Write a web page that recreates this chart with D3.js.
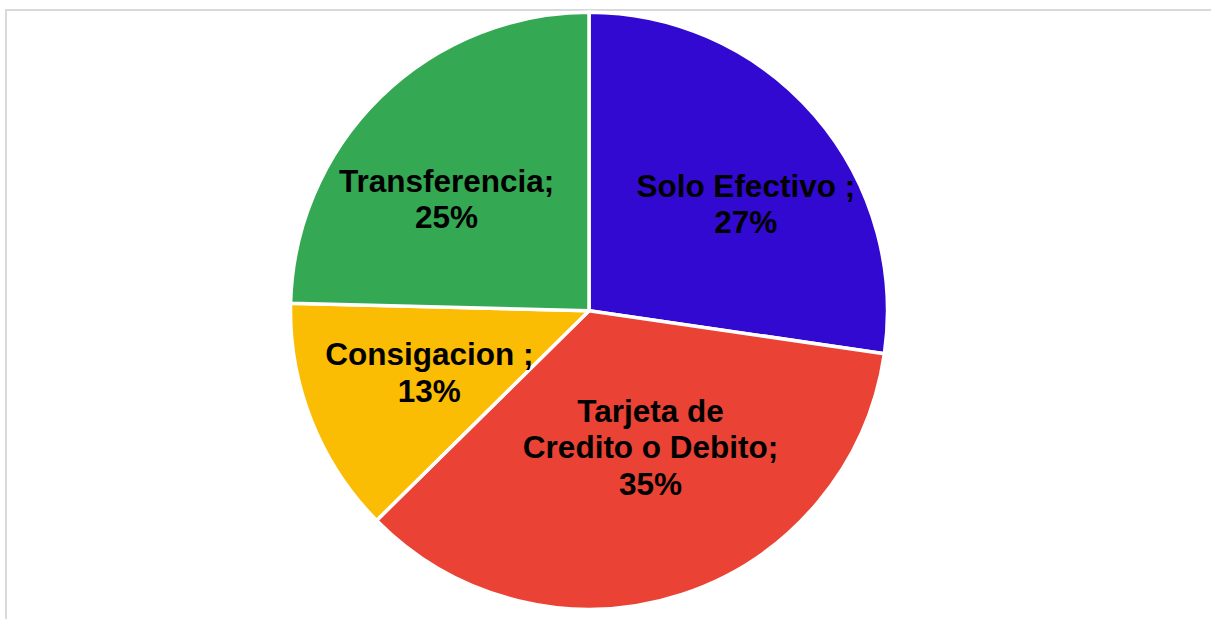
<!DOCTYPE html>
<html>
<head>
<meta charset="utf-8">
<script src="https://cdn.jsdelivr.net/npm/d3@7"></script>
<style>
  html, body { margin: 0; padding: 0; background: #ffffff; }
  svg { display: block; }
</style>
</head>
<body>
<svg id="chart" width="1211" height="619"></svg>
<script>
// ---- Data ----
const categories = ["Solo Efectivo ", "Tarjeta de\nCredito o Debito", "Consigacion ", "Transferencia"];
const values = [27.3, 35.3, 12.8, 24.6];
const colors = ["#3209D0", "#EA4335", "#FBBC04", "#34A853"];

// ---- Layout / style ----
const W = 1211, H = 619;
const cx = 589, cy = 310.7;
const R = 298.5;          // includes half of the white stroke
const strokeW = 3.5;
const fontSize = 31.5;
const lineH = 36.5;
const labelRadius = 0.6 * 297;
// small label nudges (px) from the arc centroid, mimicking best-fit placement
const labelNudge = [[22, 10], [6, -33], [6, -4], [-18, 16]];

const svg = d3.select("#chart");

// chart area border
svg.append("rect")
  .attr("x", 6).attr("y", 10)
  .attr("width", 1207).attr("height", 640)
  .attr("fill", "none")
  .attr("stroke", "#d9d9d9")
  .attr("stroke-width", 2);

const total = d3.sum(values);
const data = categories.map((c, i) => ({ name: c, value: values[i], color: colors[i], i }));

const pie = d3.pie().sort(null).value(d => d.value).startAngle(0).endAngle(2 * Math.PI);
const arcs = pie(data);

const arc = d3.arc().innerRadius(0).outerRadius(R);
const labelArc = d3.arc().innerRadius(labelRadius).outerRadius(labelRadius);

const g = svg.append("g").attr("transform", `translate(${cx},${cy})`);

g.selectAll("path.slice")
  .data(arcs)
  .join("path")
  .attr("class", "slice")
  .attr("d", arc)
  .attr("fill", d => d.data.color)
  .attr("stroke", "#ffffff")
  .attr("stroke-width", strokeW)
  .attr("stroke-linejoin", "round");

g.selectAll("text.lbl")
  .data(arcs)
  .join("text")
  .attr("class", "lbl")
  .attr("text-anchor", "middle")
  .attr("font-family", "'Liberation Sans', Arial, sans-serif")
  .attr("font-weight", "bold")
  .attr("font-size", fontSize)
  .attr("fill", "#000000")
  .each(function(d) {
    const [x0, y0] = labelArc.centroid(d);
    const nudge = labelNudge[d.data.i];
    const x = x0 + nudge[0], y = y0 + nudge[1];
    const lines = (d.data.name + ";").split("\n");
    lines.push(Math.round(d.data.value / total * 100) + "%");
    const n = lines.length;
    const firstBaseline = y - (n - 1) * lineH / 2 + 0.35 * fontSize;
    const t = d3.select(this);
    lines.forEach((ln, k) => {
      t.append("tspan")
        .attr("x", x)
        .attr("y", firstBaseline + k * lineH)
        .text(ln);
    });
  });
</script>
</body>
</html>
